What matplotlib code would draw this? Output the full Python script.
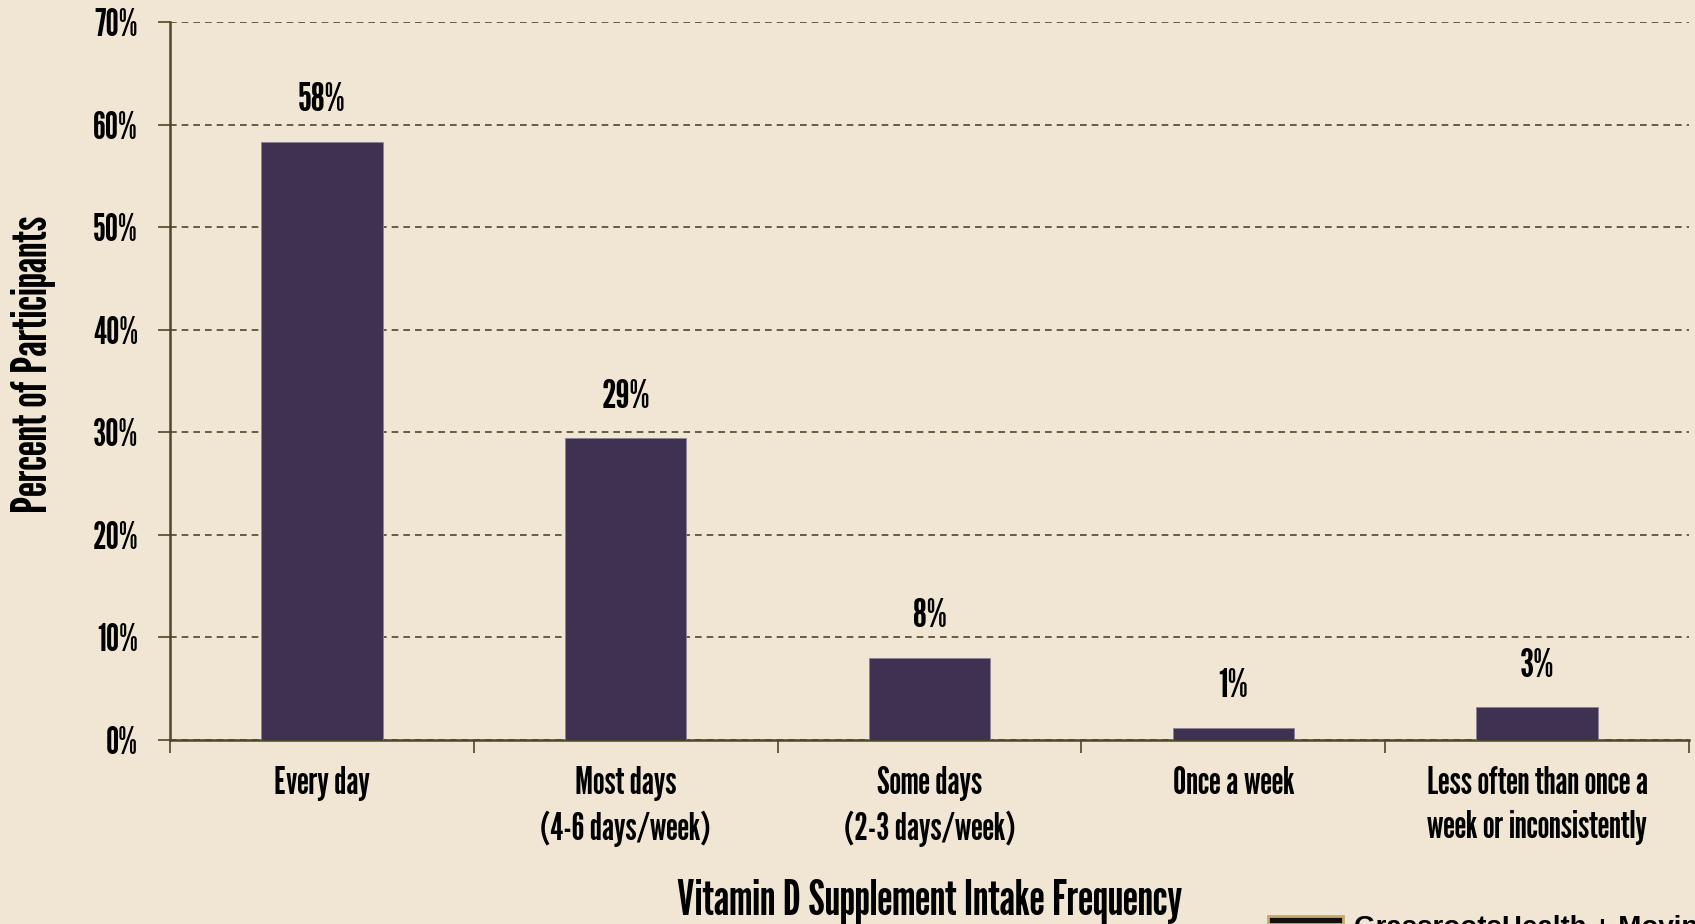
import matplotlib
matplotlib.use("Agg")
import matplotlib.pyplot as plt
from matplotlib.patches import Rectangle

categories = ["Every day", "Most days\n(4-6 days/week)", "Some days\n(2-3 days/week)",
              "Once a week", "Less often than once a\nweek or inconsistently"]
values = [58.3, 29.4, 8.0, 1.2, 3.2]
value_labels = ["58%", "29%", "8%", "1%", "3%"]
yticks = [0, 10, 20, 30, 40, 50, 60, 70]
ytick_labels = [f"{t}%" for t in yticks]

BG = "#f0e6d3"
BAR = "#3f3151"
AX = "#4d4727"
FONT = ["League Gothic", "Oswald", "DejaVu Sans"]
plt.rcParams['font.family'] = FONT

W, H = 1695, 924
fig = plt.figure(figsize=(W / 100, H / 100), dpi=100, facecolor=BG)
ax = fig.add_axes([170 / W, 1 - 740 / H, (1689 - 170) / W, (740 - 22) / H], facecolor=BG)

x = list(range(len(categories)))
ax.bar(x, values, width=0.4, color=BAR, edgecolor="#8a8298", linewidth=0.6, zorder=3)

ax.set_xlim(-0.5, len(categories) - 0.5)
ax.set_ylim(0, 70)
ax.set_yticks(yticks)
ax.set_yticklabels(ytick_labels)
ax.yaxis.grid(True, linestyle=(0, (4, 3)), color=AX, linewidth=1.2, zorder=0)
ax.set_xticks(x)
ax.set_xticklabels(categories, linespacing=1.3)
ax.set_xticks([i - 0.5 for i in range(len(categories) + 1)], minor=True)
ax.tick_params(axis='x', which='major', length=0, pad=19, labelsize=27)
ax.tick_params(axis='x', which='minor', length=9, width=1.2, color=AX, direction='out')
ax.tick_params(axis='y', length=9, width=1.2, color=AX, pad=14, labelsize=27)

for s in ['top', 'right']:
    ax.spines[s].set_visible(False)
for s in ['left', 'bottom']:
    ax.spines[s].set_color(AX)
    ax.spines[s].set_linewidth(1.8)

for i, (v, lab) in enumerate(zip(values, value_labels)):
    ax.annotate(lab, (i, v), xytext=(0, 30), textcoords='offset points',
                ha='center', va='center', fontsize=29)

fig.text(34 / W, 1 - 364 / H, "Percent of Participants", rotation=90,
         ha='center', va='center', fontsize=35)
fig.text((170 + 1689) / 2 / W, 1 - 902 / H, "Vitamin D Supplement Intake Frequency",
         ha='center', va='center', fontsize=35)

# partial logo at the bottom edge
fig.patches.append(Rectangle((1268 / W, 0), 75 / W, 8 / H, transform=fig.transFigure,
                             facecolor="#111111", edgecolor="#c8a96a", linewidth=2))
fig.text(1354 / W, 1 - 915 / H, "GrassrootsHealth + Moving", ha='left', va='top',
         fontsize=20, fontweight='bold', family=["Liberation Sans", "DejaVu Sans"])

fig.savefig("out.png", dpi=100, facecolor=BG)
